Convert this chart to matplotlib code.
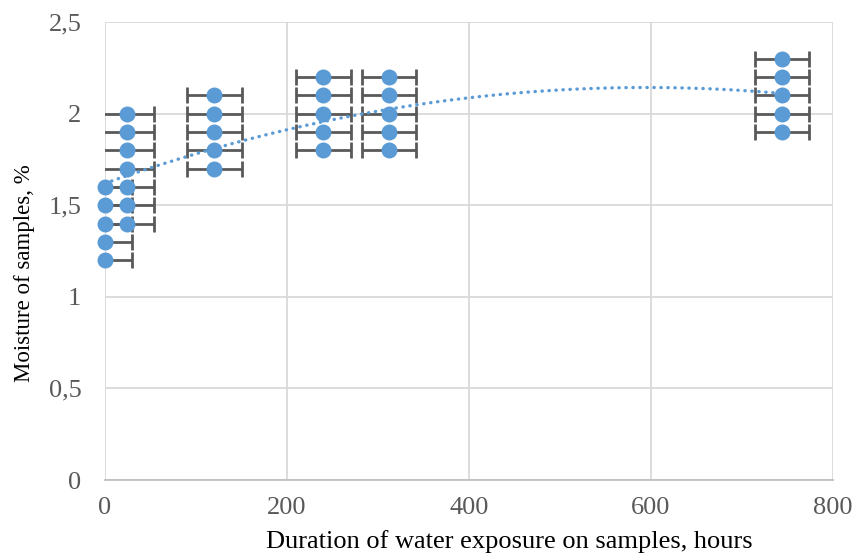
import numpy as np
import matplotlib.pyplot as plt
from matplotlib.ticker import FuncFormatter

# exposure time (hours) and measured moisture (%)
hours_0 = [0, 0, 0, 0, 0]
moist_0 = [1.2, 1.3, 1.4, 1.5, 1.6]
hours_24 = [24, 24, 24, 24, 24, 24, 24]
moist_24 = [1.4, 1.5, 1.6, 1.7, 1.8, 1.9, 2.0]
hours_120 = [120, 120, 120, 120, 120]
moist_120 = [1.7, 1.8, 1.9, 2.0, 2.1]
hours_240 = [240, 240, 240, 240, 240]
moist_240 = [1.8, 1.9, 2.0, 2.1, 2.2]
hours_312 = [312, 312, 312, 312, 312]
moist_312 = [1.8, 1.9, 2.0, 2.1, 2.2]
hours_744 = [744, 744, 744, 744, 744]
moist_744 = [1.9, 2.0, 2.1, 2.2, 2.3]
x_err = 30

# polynomial trend line (order 2)
trend_coef = [-1.477e-6, 1.758e-3, 1.62]

x = np.array(hours_0 + hours_24 + hours_120 + hours_240 + hours_312 + hours_744, dtype=float)
y = np.array(moist_0 + moist_24 + moist_120 + moist_240 + moist_312 + moist_744)

blue = '#5B9BD5'
grey = '#595959'
serif = 'Liberation Serif'

fig = plt.figure(figsize=(8.55, 5.53), dpi=100)
ax = fig.add_axes([0.1228, 0.132, 0.8515, 0.828])

ax.errorbar(x, y, xerr=x_err, fmt='none', ecolor=grey, elinewidth=2.0,
            capsize=5.5, capthick=2.0, zorder=2)

xt = np.linspace(x.min(), x.max(), 300)
ax.plot(xt, np.polyval(trend_coef, xt), color=blue, lw=2.4, linestyle=(0, (0.1, 2.0)),
        dash_capstyle='round', zorder=3)

ax.plot(x, y, 'o', color=blue, markersize=11.5, markeredgewidth=0,
        zorder=4, clip_on=False)

ax.set_xlim(0, 800)
ax.set_ylim(0, 2.5)
ax.set_xticks([0, 200, 400, 600, 800])
ax.set_yticks([0, 0.5, 1, 1.5, 2, 2.5])
ax.yaxis.set_major_formatter(FuncFormatter(lambda v, p: ('%g' % v).replace('.', ',')))

ax.grid(True, color='#d9d9d9', lw=1.3, zorder=0)
ax.set_axisbelow(True)
for s in ['top', 'right', 'left']:
    ax.spines[s].set_visible(False)
ax.spines['bottom'].set_color('#bfbfbf')
ax.spines['bottom'].set_linewidth(1.3)
ax.tick_params(length=0, labelsize=19, labelcolor=grey)
ax.tick_params(axis='x', pad=12)
ax.tick_params(axis='y', pad=17)
for lab in ax.get_xticklabels() + ax.get_yticklabels():
    lab.set_family(serif)

ax.set_xlabel('Duration of water exposure on samples, hours', family=serif, fontsize=19)
ax.set_ylabel('Moisture of samples, %', family=serif, fontsize=16.5)
ax.xaxis.set_label_coords(0.556, -0.110)
ax.yaxis.set_label_coords(-0.096, 0.452)

fig.savefig('out.png', dpi=100)
